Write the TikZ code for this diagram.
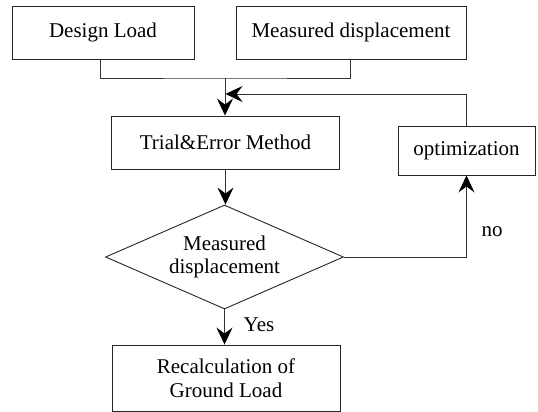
\documentclass[tikz,border=0pt]{standalone}
\usepackage{fontspec}
\setmainfont{Liberation Serif}
\usetikzlibrary{shapes.geometric,arrows.meta}
\begin{document}
\begin{tikzpicture}[x=1pt,y=-1pt,
  every node/.style={font=\fontsize{21pt}{23.5pt}\selectfont, align=center},
  box/.style={draw=black!85, line width=0.9pt, rectangle, inner sep=0pt},
  dia/.style={draw=black!85, line width=0.9pt, diamond, aspect=2.3, inner sep=0pt},
  conn/.style={draw=black!80, line width=0.9pt},
  arr/.style={conn, -{Stealth[length=17pt,width=16pt,inset=6pt,black]}},
  lbl/.style={inner sep=0pt}]
\useasboundingbox (0,0) rectangle (538,412);
\node[box, minimum width=182pt, minimum height=53pt] (dl) at (103,32.5) {Design Load};
\node[box, minimum width=230pt, minimum height=53pt] (md) at (351,32.5) {Measured displacement};
\node[box, minimum width=228pt, minimum height=53pt] (te) at (225.5,142.5) {Trial\&Error Method};
\node[box, minimum width=137pt, minimum height=49pt] (opt) at (466.5,150.5) {optimization};
\node[dia, minimum width=238pt, minimum height=104pt] (d) at (224.5,257) {Measured\\displacement};
\node[box, minimum width=228pt, minimum height=66pt] (rc) at (226,378) {Recalculation of\\Ground Load};
\coordinate (j) at (225,78);
\coordinate (fb) at (225.5,94);
\draw[conn] ([xshift=-3pt]dl.south) |- (j) -| ([xshift=-1pt]md.south);
\draw[arr] (j) -- (j |- te.north);
\draw[arr] (opt.north) |- (fb);
\draw[arr] (te.south) -- (te.south |- d.north);
\draw[arr] (d.east) -| (opt.south);
\draw[arr] (d.south) -- (d.south |- rc.north);
\node[lbl] (no) at (492,232) {no};
\node[lbl] (yes) at (259,325) {Yes};
\end{tikzpicture}
\end{document}
